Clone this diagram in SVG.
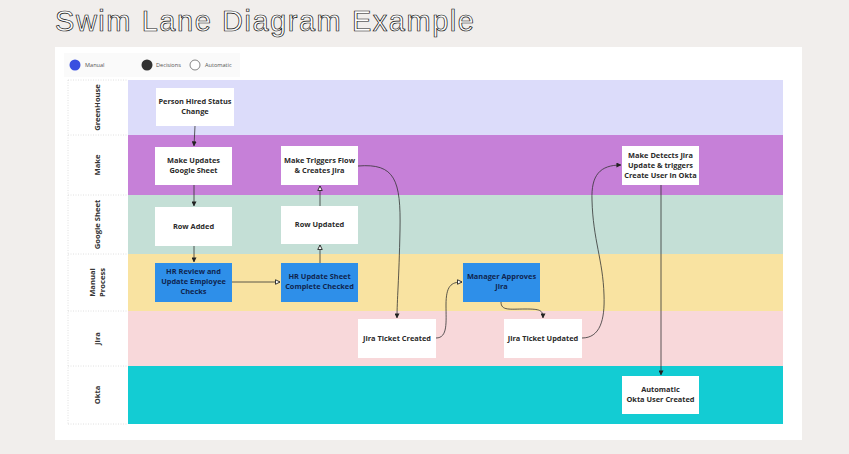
<svg xmlns="http://www.w3.org/2000/svg" width="849" height="454" viewBox="0 0 849 454">
<defs>
<style>
.node rect{stroke:none}
.w{fill:#ffffff}
.b{fill:#2e8fe9}
.nt{font-family:"Open Sans","Noto Sans",sans-serif;font-weight:bold;font-size:7.4px;fill:#2a2a2a;text-anchor:middle}
.bt{fill:#0f2550}
.lt{font-family:"Open Sans","Noto Sans",sans-serif;font-weight:bold;font-size:7.6px;fill:#333;text-anchor:middle}
.lg{font-family:"Open Sans","Noto Sans",sans-serif;font-size:5.6px;fill:#555}
.c{fill:none;stroke:#333;stroke-width:0.8}
.sep{stroke:#d8d8d8;stroke-width:0.8;stroke-dasharray:1 1.5}
</style>
<marker id="af" viewBox="0 0 6 6" refX="5.5" refY="3" markerWidth="5" markerHeight="5" orient="auto" markerUnits="userSpaceOnUse"><path d="M0,0 L6,3 L0,6 Z" fill="#222"/></marker>
<marker id="ah" viewBox="0 0 8 8" refX="7" refY="4" markerWidth="6" markerHeight="6" orient="auto" markerUnits="userSpaceOnUse"><path d="M1,1 L7,4 L1,7 Z" fill="#fff" stroke="#222" stroke-width="1.2"/></marker>
</defs>
<rect width="849" height="454" fill="#f1eeec"/>
<text x="55" y="31" font-family="Liberation Sans, Arial, sans-serif" font-size="29" fill="#ffffff" stroke="#111" stroke-width="0.7" textLength="419">Swim Lane Diagram Example</text>
<rect x="55" y="47" width="747" height="393" fill="#ffffff"/>
<g id="legend">
<rect x="64" y="53" width="176" height="24" fill="#fafafa"/>
<circle cx="75" cy="65" r="5.5" fill="#3a4fe0"/>
<text class="lg" x="85" y="67">Manual</text>
<circle cx="147" cy="65" r="5.5" fill="#333"/>
<text class="lg" x="156" y="67">Decisions</text>
<circle cx="195" cy="65" r="5" fill="#fff" stroke="#777" stroke-width="0.9"/>
<text class="lg" x="205" y="67">Automatic</text>
</g>
<g id="lanes">
<rect x="128" y="80" width="655" height="55" fill="#dcdcfa"/>
<rect x="128" y="135" width="655" height="60" fill="#c680d8"/>
<rect x="128" y="195" width="655" height="59" fill="#c4dfd6"/>
<rect x="128" y="254" width="655" height="57" fill="#f9e3a1"/>
<rect x="128" y="311" width="655" height="55" fill="#f8d8da"/>
<rect x="128" y="366" width="655" height="58" fill="#13ccd3"/>
<line class="sep" x1="68" y1="80" x2="128" y2="80"/>
<line class="sep" x1="68" y1="135" x2="128" y2="135"/>
<line class="sep" x1="68" y1="195" x2="128" y2="195"/>
<line class="sep" x1="68" y1="254" x2="128" y2="254"/>
<line class="sep" x1="68" y1="311" x2="128" y2="311"/>
<line class="sep" x1="68" y1="366" x2="128" y2="366"/>
<line class="sep" x1="68" y1="424" x2="128" y2="424"/>
<line class="sep" x1="68" y1="80" x2="68" y2="424"/>
<text class="lt" transform="translate(100,107.5) rotate(-90)">GreenHouse</text>
<text class="lt" transform="translate(100,165) rotate(-90)">Make</text>
<text class="lt" transform="translate(100,224.5) rotate(-90)">Google Sheet</text>
<text class="lt" transform="translate(95,282.5) rotate(-90)">Manual</text>
<text class="lt" transform="translate(105,282.5) rotate(-90)">Process</text>
<text class="lt" transform="translate(100,338.5) rotate(-90)">Jira</text>
<text class="lt" transform="translate(100,395) rotate(-90)">Okta</text>
</g>
<g id="connectors">
<path class="c" d="M195,126 L194,146" marker-end="url(#af)"/>
<path class="c" d="M194,185 L194,206" marker-end="url(#af)"/>
<path class="c" d="M194,246 L194,262" marker-end="url(#af)"/>
<path class="c" d="M232,282 L280,282" marker-end="url(#ah)"/>
<path class="c" d="M320,263 L320,245" marker-end="url(#ah)"/>
<path class="c" d="M320,206 L320,186" marker-end="url(#ah)"/>
<path class="c" d="M358,166 C395,163 401,180 400,230 C399,280 397,300 397,318" marker-end="url(#af)"/>
<path class="c" d="M436,338 C448,338 446,322 446,305 C446,286 451,282 462,282" marker-end="url(#ah)"/>
<path class="c" d="M501,302 C501,311 510,309 525,309 C540,309 543,310 543,318" marker-end="url(#af)"/>
<path class="c" d="M582,338 C600,338 605,320 604,295 C603,260 593,240 592,200 C591,175 600,165 621,165" marker-end="url(#af)"/>
<path class="c" d="M661,185 L661,375" marker-end="url(#af)"/>
</g>
<g id="n1" class="node"><rect class="w" x="156" y="88" width="78" height="38"/><text class="nt" x="195" y="104">Person Hired Status</text><text class="nt" x="195" y="114">Change</text></g>
<g id="n2" class="node"><rect class="w" x="155" y="147" width="77" height="38"/><text class="nt" x="193.5" y="163">Make Updates</text><text class="nt" x="193.5" y="173">Google Sheet</text></g>
<g id="n3" class="node"><rect class="w" x="155" y="207" width="77" height="39"/><text class="nt" x="193.5" y="229">Row Added</text></g>
<g id="n4" class="node"><rect class="b" x="155" y="263" width="77" height="39"/><text class="nt bt" x="193.5" y="274">HR Review and</text><text class="nt bt" x="193.5" y="284">Update Employee</text><text class="nt bt" x="193.5" y="294">Checks</text></g>
<g id="n5" class="node"><rect class="b" x="281" y="263" width="77" height="39"/><text class="nt bt" x="319.5" y="279">HR Update Sheet</text><text class="nt bt" x="319.5" y="289">Complete Checked</text></g>
<g id="n6" class="node"><rect class="w" x="281" y="206" width="77" height="38"/><text class="nt" x="319.5" y="227">Row Updated</text></g>
<g id="n7" class="node"><rect class="w" x="281" y="146" width="77" height="39"/><text class="nt" x="319.5" y="163">Make Triggers Flow</text><text class="nt" x="319.5" y="173">&amp; Creates Jira</text></g>
<g id="n8" class="node"><rect class="w" x="358" y="319" width="78" height="39"/><text class="nt" x="397" y="341">Jira Ticket Created</text></g>
<g id="n9" class="node"><rect class="b" x="463" y="263" width="77" height="39"/><text class="nt bt" x="501.5" y="279">Manager Approves</text><text class="nt bt" x="501.5" y="289">Jira</text></g>
<g id="n10" class="node"><rect class="w" x="504" y="319" width="78" height="39"/><text class="nt" x="543" y="341">Jira Ticket Updated</text></g>
<g id="n11" class="node"><rect class="w" x="622" y="146" width="77" height="39"/><text class="nt" x="660.5" y="158">Make Detects Jira</text><text class="nt" x="660.5" y="168">Update &amp; triggers</text><text class="nt" x="660.5" y="178">Create User in Okta</text></g>
<g id="n12" class="node"><rect class="w" x="622" y="376" width="77" height="38"/><text class="nt" x="660.5" y="392">Automatic</text><text class="nt" x="660.5" y="402">Okta User Created</text></g>
</svg>
